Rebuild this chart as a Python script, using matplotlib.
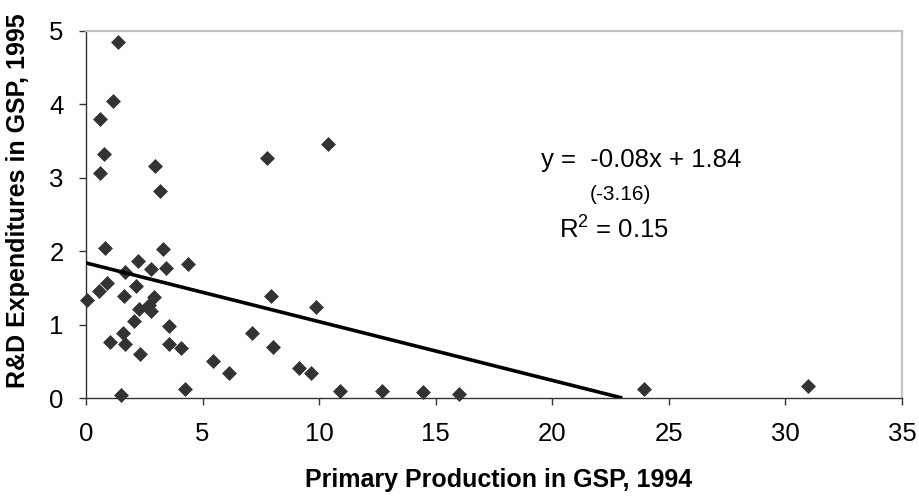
import matplotlib
matplotlib.use('Agg')
import matplotlib.pyplot as plt
import numpy as np

plt.rcParams['font.family'] = ['Liberation Sans', 'DejaVu Sans']
plt.rcParams['mathtext.fontset'] = 'custom'
plt.rcParams['mathtext.rm'] = 'Liberation Sans'

# primary production share of GSP 1994 (x) vs R&D share 1995 (y)
prim_prod = [1.38, 1.17, 0.60, 0.77, 0.60, 2.97, 3.16, 7.76, 10.39,
             0.81, 3.31, 2.24, 4.39, 2.79, 3.44, 1.67, 2.13, 0.89, 0.56,
             0.03, 1.63, 2.91, 2.70, 2.27, 2.77, 2.06, 3.56, 1.60, 1.67,
             1.01, 2.33, 3.57, 4.09, 1.49, 4.24, 5.46, 6.14, 7.10, 7.94,
             8.04, 9.13, 9.67, 9.87, 10.91, 12.70, 14.46, 15.99, 23.92, 30.96]
rd_exp = [4.85, 4.05, 3.80, 3.33, 3.06, 3.16, 2.82, 3.27, 3.46,
          2.05, 2.03, 1.87, 1.83, 1.76, 1.77, 1.71, 1.52, 1.57, 1.46,
          1.34, 1.39, 1.38, 1.27, 1.21, 1.18, 1.05, 0.98, 0.88, 0.74,
          0.76, 0.60, 0.74, 0.68, 0.04, 0.12, 0.51, 0.34, 0.88, 1.39,
          0.69, 0.41, 0.34, 1.24, 0.10, 0.10, 0.08, 0.06, 0.12, 0.16]

slope = -0.08
intercept = 1.84
x_end = -intercept / slope

fig = plt.figure(figsize=(9.19, 4.96), dpi=100)
ax = fig.add_axes([86 / 919, 1 - 398 / 496, 816 / 919, 367 / 496])

ax.scatter(prim_prod, rd_exp, marker='D', s=58, color='#333333',
           linewidths=0, zorder=3, clip_on=False)
ax.plot([0, x_end], [intercept, 0], color='black', lw=2.6, zorder=4,
        solid_capstyle='butt')

ax.set_xlim(0, 35)
ax.set_ylim(0, 5)
ax.set_xticks(np.arange(0, 36, 5))
ax.set_yticks(np.arange(0, 6, 1))

for s in ['top', 'right']:
    ax.spines[s].set_color('#c0c0c0')
    ax.spines[s].set_linewidth(1.6)
for s in ['left', 'bottom']:
    ax.spines[s].set_color('#333333')
    ax.spines[s].set_linewidth(1.0)

ax.tick_params(axis='both', labelsize=18.5, length=5, width=1,
               color='#333333')
ax.tick_params(axis='x', pad=12)
ax.tick_params(axis='y', pad=11)

ax.set_xlabel('Primary Production in GSP, 1994', fontsize=18,
              fontweight='bold', va='center')
ax.set_ylabel('R&D Expenditures in GSP, 1995', fontsize=18,
              fontweight='bold', va='center')
ax.xaxis.set_label_coords(0.505, -0.223)
ax.yaxis.set_label_coords(-0.083, 0.537)

ax.text(19.5, 3.15, 'y =  -0.08x + 1.84', fontsize=18.5, va='baseline')
ax.text(22.93, 2.70, '(-3.16)', fontsize=15, va='baseline', ha='center')
ax.text(20.27, 2.19, 'R$^{\\mathrm{2}}$ = 0.15', fontsize=18.5,
        va='baseline')

fig.savefig('out.png', dpi=100)
